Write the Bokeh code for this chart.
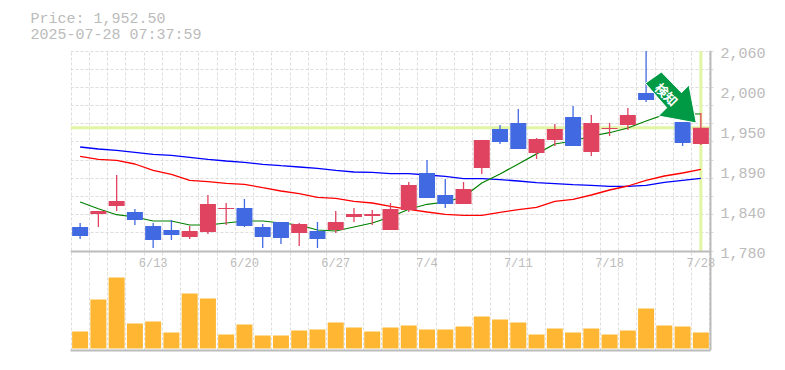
from bokeh.plotting import figure
from bokeh.embed import file_html
from bokeh.resources import INLINE
from bokeh.core.properties import value
from bokeh.models import (ColumnDataSource, FixedTicker, Grid, LinearAxis,
                          Range1d, Span)

title_price = "Price: 1,952.50"
title_time = "2025-07-28 07:37:59"
current_price = 1952.5
price_ticks = [1780, 1836, 1892, 1948, 2004, 2060]
price_tick_labels = ["1,780", "1,840", "1,890", "1,950", "2,000", "2,060"]
date_ticks = [4, 9, 14, 19, 24, 29, 34]
date_labels = ["6/13", "6/20", "6/27", "7/4", "7/11", "7/18", "7/28"]

opens = [1813.6, 1831.8, 1843.0, 1834.6, 1815.0, 1809.4, 1799.6, 1806.6, 1838.8, 1840.2,
         1813.6, 1820.6, 1805.2, 1808.0, 1809.4, 1827.6, 1829.0, 1809.4, 1837.4, 1889.2,
         1858.4, 1845.8, 1896.2, 1950.8, 1959.2, 1917.2, 1935.4, 1967.6, 1918.6, 1950.8,
         1956.4, 2001.2, 2012.4, 1960.6, 1929.8]
closes = [1801.0, 1836.0, 1850.0, 1823.4, 1795.4, 1802.4, 1808.0, 1845.8, 1840.2, 1815.0,
          1799.6, 1798.2, 1817.8, 1796.8, 1820.6, 1831.8, 1831.8, 1838.8, 1872.4, 1854.2,
          1845.8, 1866.8, 1935.4, 1932.6, 1922.8, 1936.8, 1950.8, 1927.0, 1959.2, 1952.2,
          1970.4, 1991.4, 2001.2, 1931.2, 1952.5]
highs = [1819.2, 1836.0, 1886.4, 1838.8, 1819.2, 1823.4, 1815.0, 1858.4, 1847.2, 1852.8,
         1817.8, 1820.6, 1819.2, 1820.6, 1836.0, 1840.2, 1837.4, 1847.2, 1876.6, 1907.4,
         1880.8, 1876.6, 1935.4, 1956.4, 1978.8, 1938.2, 1957.8, 1983.0, 1970.4, 1959.2,
         1980.2, 2060.0, 2025.0, 1960.6, 1973.2]
lows = [1796.8, 1813.6, 1836.0, 1816.4, 1784.2, 1795.4, 1796.8, 1803.8, 1816.4, 1813.6,
        1784.2, 1789.8, 1787.0, 1784.2, 1805.2, 1820.6, 1816.4, 1809.4, 1834.6, 1854.2,
        1840.2, 1845.8, 1887.8, 1929.8, 1922.8, 1908.8, 1927.0, 1927.0, 1913.0, 1941.0,
        1949.4, 1988.6, 1990.0, 1927.0, 1928.4]
ma_short = [1848.6, 1839.2, 1830.8, 1827.6, 1822.0, 1822.0, 1816.4, 1816.4, 1819.2, 1822.0,
            1822.0, 1819.2, 1816.4, 1809.4, 1808.0, 1813.6, 1819.2, 1827.6, 1838.4, 1845.4,
            1848.6, 1855.6, 1875.2, 1887.8, 1901.8, 1916.0, 1929.8, 1934.0, 1941.0, 1945.6,
            1952.2, 1962.0, 1971.0, 1972.0, 1971.8]
ma_mid = [1912.6, 1908.2, 1906.8, 1901.8, 1893.0, 1887.4, 1879.0, 1877.0, 1874.8, 1873.4,
          1868.6, 1864.0, 1860.2, 1855.2, 1853.8, 1849.6, 1847.2, 1842.6, 1838.4, 1834.6,
          1831.4, 1830.0, 1830.0, 1834.2, 1837.8, 1841.2, 1849.6, 1852.4, 1858.4, 1865.4,
          1871.0, 1878.9, 1885.0, 1889.2, 1894.4]
ma_long = [1925.6, 1922.8, 1921.0, 1918.2, 1915.4, 1914.0, 1911.2, 1908.4, 1906.0, 1904.2,
           1901.4, 1899.4, 1897.6, 1895.8, 1893.0, 1890.6, 1890.2, 1888.2, 1888.2, 1886.4,
           1884.6, 1881.2, 1881.2, 1879.8, 1878.0, 1875.6, 1874.2, 1872.8, 1872.0, 1870.6,
           1870.6, 1872.0, 1876.2, 1879.0, 1881.8]
volumes = [17000, 49000, 71000, 25000, 27000, 16000, 55000, 50000, 14000, 24000,
           13000, 13000, 18000, 19000, 26000, 21000, 17000, 21000, 23000, 19000,
           19000, 22000, 32000, 29000, 26000, 14000, 20000, 16000, 20000, 14000,
           18000, 40000, 23000, 22000, 16000]

arrow_x = [30.96, 31.84, 32.94, 33.35, 33.75, 31.68, 32.13]
arrow_y = [2014.8, 2030.6, 2001.6, 2012.4, 1959.2, 1969.0, 1980.6]

RED = "#e04360"
BLUE = "#4169e1"
GREY = "#bbbbbb"
MONO = "Liberation Mono"
X_START, X_EDGE, X_END = -0.5274, 34.5274, 34.8015
Y_START, Y_END = 1640.7, 2060.7
LABEL_DROP = 2.8

n = len(opens)
xs = list(range(n))
colors = [RED if c >= o else BLUE for o, c in zip(opens, closes)]
source = ColumnDataSource(dict(
    x=xs, high=highs, low=lows,
    top=[max(o, c) for o, c in zip(opens, closes)],
    bottom=[min(o, c) for o, c in zip(opens, closes)],
    color=colors, volume=volumes,
    short=ma_short, mid=ma_mid, long=ma_long,
))

p = figure(width=785, height=362, output_backend="svg", toolbar_location=None,
           x_range=Range1d(X_START, X_END), y_range=Range1d(Y_START, Y_END),
           y_axis_location="right", min_border_left=70, min_border_right=70,
           min_border_top=50, min_border_bottom=12, outline_line_color=None,
           background_fill_color="white", border_fill_color="white")
p.extra_y_ranges = {"vol": Range1d(-2000, 298000)}

p.title.text = title_price + "\n" + title_time
p.title.align = "left"
p.title.offset = -40
p.title.standoff = 12
p.title.text_color = GREY
p.title.text_font = MONO
p.title.text_font_size = "15px"
p.title.text_font_style = "normal"
p.title.text_line_height = 0.95

p.xgrid.visible = False
p.ygrid.visible = False
vgrid = Grid(dimension=0, ticker=FixedTicker(ticks=[i - 0.5 for i in range(n + 1)]),
             grid_line_color="#dddddd", grid_line_dash="3 2", grid_line_width=1)
hgrid = Grid(dimension=1, ticker=FixedTicker(ticks=[1780 + k * 280 / 11 for k in range(12)]),
             grid_line_color="#dddddd", grid_line_dash="3 2", grid_line_width=1)
p.add_layout(vgrid)
p.add_layout(hgrid)

# right price labels
label_pos = [t - LABEL_DROP for t in price_ticks]
ya = p.yaxis[0]
ya.ticker = FixedTicker(ticks=label_pos)
ya.major_label_overrides = dict(zip(label_pos, price_tick_labels))
ya.major_tick_line_color = None
ya.minor_tick_line_color = None
ya.major_tick_out = 0
ya.axis_line_color = None
ya.major_label_standoff = 5
ya.major_label_text_color = GREY
ya.major_label_text_font = MONO
ya.major_label_text_font_size = "15px"
ya.major_label_text_baseline = "hanging"

# right rule
ra = LinearAxis(fixed_location=X_EDGE, ticker=FixedTicker(ticks=[]), bounds=(Y_START, Y_END))
ra.major_tick_line_color = None
ra.minor_tick_line_color = None
ra.major_tick_out = 0
ra.axis_line_color = GREY
ra.axis_line_width = 2
ra.major_label_text_color = None
p.add_layout(ra, "right")

# bottom rule
xa = p.xaxis[0]
xa.ticker = FixedTicker(ticks=[])
xa.bounds = (X_START, X_EDGE)
xa.major_tick_line_color = None
xa.minor_tick_line_color = None
xa.major_tick_out = 0
xa.axis_line_color = GREY
xa.axis_line_width = 2
xa.major_label_text_color = None

# separator and date labels between the panels
da = LinearAxis(fixed_location=1780, ticker=FixedTicker(ticks=date_ticks),
                major_label_overrides=dict(zip(date_ticks, date_labels)),
                bounds=(X_START, X_EDGE))
da.major_tick_line_color = None
da.minor_tick_line_color = None
da.major_tick_out = 0
da.axis_line_color = GREY
da.axis_line_width = 2
da.major_label_standoff = 6
da.major_label_text_color = GREY
da.major_label_text_font = MONO
da.major_label_text_font_size = "12px"
p.add_layout(da, "below")

# current price marks
p.segment(x0=[X_START], x1=[X_EDGE], y0=[current_price], y1=[current_price],
          line_color="#e2f5a4", line_width=3)
p.segment(x0=[xs[-1]], x1=[xs[-1]], y0=[1780], y1=[2060], line_color="#e2f5a4", line_width=3)

# moving averages
p.line("x", "long", source=source, line_color="#0000ff", line_width=1.3)
p.line("x", "mid", source=source, line_color="#ff0000", line_width=1.3)
p.line("x", "short", source=source, line_color="#008000", line_width=1.2)

# candles
p.segment("x", "high", "x", "low", source=source, line_color="color", line_width=1.3)
p.vbar("x", width=0.876, top="top", bottom="bottom", source=source,
       fill_color="color", line_color=None)

# volume
p.vbar("x", width=0.876, top="volume", bottom=0, source=source, y_range_name="vol",
       fill_color="#ffb733", line_color=None)

# signal arrow
p.patch(arrow_x, arrow_y, fill_color="#009944", line_color="white", line_width=1)
p.text(x=[32.13], y=[1999.5], text=["検知"], angle=-45, angle_units="deg",
       text_color="white", text_align="center", text_baseline="middle",
       text_font=value("Noto Sans CJK JP"), text_font_size="13px", text_font_style="bold")

open("out.html", "w").write(file_html(p, INLINE))
